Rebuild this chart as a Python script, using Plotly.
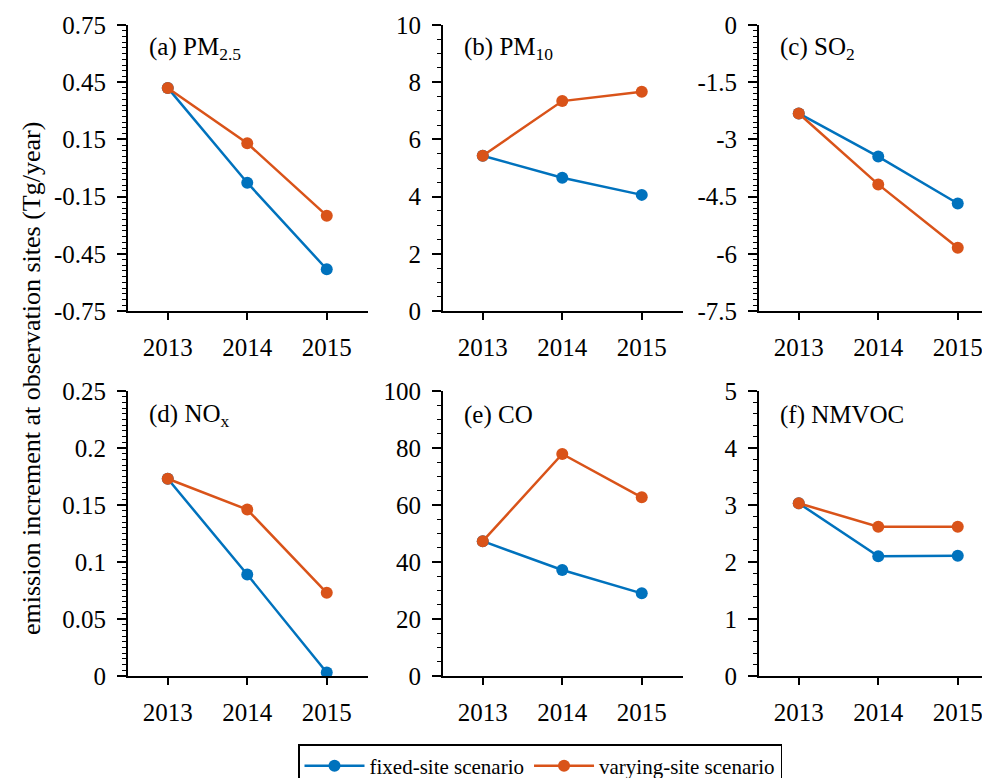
import plotly.graph_objects as go

years = [2013, 2014, 2015]
panel_labels = ["(a) PM<sub>2.5</sub>", "(b) PM<sub>10</sub>", "(c) SO<sub>2</sub>",
                "(d) NO<sub>x</sub>", "(e) CO", "(f) NMVOC"]
fixed_site = [
    [0.42, -0.077, -0.531],
    [5.43, 4.66, 4.06],
    [-2.32, -3.45, -4.68],
    [0.173, 0.089, 0.003],
    [47.3, 37.2, 29.0],
    [3.03, 2.10, 2.11],
]
varying_site = [
    [0.42, 0.13, -0.25],
    [5.43, 7.34, 7.67],
    [-2.32, -4.18, -5.84],
    [0.173, 0.146, 0.073],
    [47.3, 77.9, 62.7],
    [3.03, 2.62, 2.62],
]
y_ranges = [(-0.75, 0.75), (0, 10), (-7.5, 0), (0, 0.25), (0, 100), (0, 5)]
y_ticks = [
    [-0.75, -0.45, -0.15, 0.15, 0.45, 0.75],
    [0, 2, 4, 6, 8, 10],
    [-7.5, -6, -4.5, -3, -1.5, 0],
    [0, 0.05, 0.1, 0.15, 0.2, 0.25],
    [0, 20, 40, 60, 80, 100],
    [0, 1, 2, 3, 4, 5],
]
y_ticktext = [
    ["-0.75", "-0.45", "-0.15", "0.15", "0.45", "0.75"],
    ["0", "2", "4", "6", "8", "10"],
    ["-7.5", "-6", "-4.5", "-3", "-1.5", "0"],
    ["0", "0.05", "0.1", "0.15", "0.2", "0.25"],
    ["0", "20", "40", "60", "80", "100"],
    ["0", "1", "2", "3", "4", "5"],
]
minor_dtick = [0.03, 0.5, 0.15, 0.005, 5, 0.2]
series_names = ["fixed-site scenario", "varying-site scenario"]
colors = ["#0072BD", "#D95319"]

# page has an 8px body margin; figure drawn at (8, 8)
OFF = 8
W, H = 990 - OFF, 778 - OFF
x_px = [(128, 368), (443, 683), (759, 988)]
y_px = [(25, 311), (391, 676)]

FONT = "Liberation Serif"
fig = go.Figure()
layout = dict(
    width=W, height=H, margin=dict(l=0, r=0, t=0, b=0, autoexpand=False),
    plot_bgcolor="white", paper_bgcolor="white",
    font=dict(family=FONT, size=26, color="black"),
    showlegend=True,
)
annotations = []
for i in range(6):
    r, c = divmod(i, 3)
    xa = "x" if i == 0 else f"x{i+1}"
    ya = "y" if i == 0 else f"y{i+1}"
    x0, x1 = x_px[c][0] - OFF, x_px[c][1] - OFF
    y0, y1 = y_px[r][0] - OFF, y_px[r][1] - OFF
    xmax = 2012.5 + (x1 - x0) / 79.5
    key = "" if i == 0 else str(i + 1)
    layout["xaxis" + key] = dict(
        domain=[x0 / W, min(x1 / W, 1.0)], range=[2012.5, xmax], anchor=ya,
        tickvals=years, ticktext=[str(y) for y in years],
        ticks="outside", ticklen=7, tickwidth=1.5, tickcolor="black",
        showline=True, linecolor="black", linewidth=2,
        showgrid=False, zeroline=False, ticklabelstandoff=6,
        tickfont=dict(size=25, family=FONT),
    )
    layout["yaxis" + key] = dict(
        domain=[1 - y1 / H, 1 - y0 / H], range=list(y_ranges[i]), anchor=xa,
        tickvals=y_ticks[i], ticktext=y_ticktext[i],
        ticks="outside", ticklen=9, tickwidth=1.5, tickcolor="black",
        minor=dict(dtick=minor_dtick[i], tick0=y_ranges[i][0], ticks="outside",
                   ticklen=4, tickwidth=1.2, tickcolor="black", showgrid=False),
        showline=True, linecolor="black", linewidth=2,
        showgrid=False, zeroline=False, ticklabelstandoff=6,
        tickfont=dict(size=25, family=FONT),
    )
    for s, vals in enumerate([fixed_site[i], varying_site[i]]):
        fig.add_trace(go.Scatter(
            x=years, y=vals, mode="lines+markers", name=series_names[s],
            line=dict(color=colors[s], width=2.5),
            marker=dict(color=colors[s], size=12),
            xaxis=xa, yaxis=ya, showlegend=(i == 0), cliponaxis=False,
        ))
    annotations.append(dict(
        text=panel_labels[i], x=(x0 + 19) / W, y=1 - (y0 + 24) / H,
        xref="paper", yref="paper", xanchor="left", yanchor="middle",
        showarrow=False, font=dict(size=25, family=FONT),
    ))

annotations.append(dict(
    text="emission increment at observation sites (Tg/year)",
    x=(31 - OFF) / W, y=1 - (379 - OFF) / H, xref="paper", yref="paper",
    xanchor="center", yanchor="middle", textangle=-90, showarrow=False,
    font=dict(size=26, family=FONT),
))
layout["annotations"] = annotations
layout["legend"] = dict(
    orientation="h", x=(540 - OFF) / W, y=1 - (744 - OFF) / H,
    xanchor="center", yanchor="top",
    bordercolor="black", borderwidth=1.5, bgcolor="white",
    font=dict(size=21, family=FONT), itemwidth=60,
    tracegroupgap=0,
)
fig.update_layout(**layout)
fig.write_html("out.html")
